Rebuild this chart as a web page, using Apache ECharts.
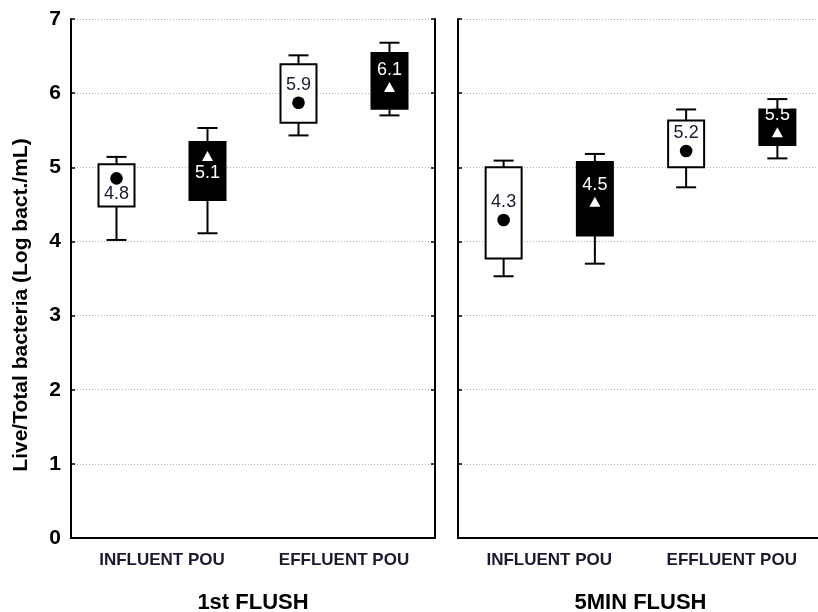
<!DOCTYPE html>
<html>
<head>
<meta charset="utf-8">
<script src="https://cdn.jsdelivr.net/npm/echarts@6/dist/echarts.min.js"></script>
<style>html,body{margin:0;padding:0;background:#fff}#c{width:818px;height:612px}</style>
</head>
<body>
<div id="c"></div>
<script>
// ---- data ----
var categories = ['INFLUENT POU', 'EFFLUENT POU'];
var groups = ['1st FLUSH', '5MIN FLUSH'];
var yTicks = [0, 1, 2, 3, 4, 5, 6, 7];
var yTitle = 'Live/Total bacteria (Log bact./mL)';
// each row: [category index, whisker low, box low, box high, whisker high, mean]
var flush1Open   = [[0, 4.02, 4.47, 5.04, 5.14, 4.85], [1, 5.43, 5.60, 6.39, 6.51, 5.87]];
var flush1Filled = [[0, 4.11, 4.56, 5.34, 5.53, 5.14], [1, 5.70, 5.79, 6.54, 6.68, 6.07]];
var flush5Open   = [[0, 3.53, 3.77, 5.00, 5.09, 4.29], [1, 4.73, 5.00, 5.63, 5.78, 5.22]];
var flush5Filled = [[0, 3.70, 4.08, 5.07, 5.18, 4.52], [1, 5.12, 5.30, 5.78, 5.92, 5.46]];
var flush1OpenLabels   = ['4.8', '5.9'];
var flush1FilledLabels = ['5.1', '6.1'];
var flush5OpenLabels   = ['4.3', '5.2'];
var flush5FilledLabels = ['4.5', '5.5'];
var flush1LabelSide = ['below', 'above'];
var flush5LabelSide = ['above', 'above'];

// ---- style ----
var FONT = "'Liberation Sans', Arial, sans-serif";
var AXC = '#000';

function renderer(side, filled, labels, labelSide) {
  return function (params, api) {
    var cat = api.value(0);
    var bw = api.size([1, 0])[0];
    var x = api.coord([cat, 0])[0] + side * bw / 4;
    function Y(v) { return api.coord([cat, v])[1]; }
    var wlo = Y(api.value(1)), blo = Y(api.value(2)), bhi = Y(api.value(3)), whi = Y(api.value(4)), m = Y(api.value(5));
    var half = 18, cap = 10;
    var ls = { stroke: '#000', lineWidth: 2 };
    var ch = [
      { type: 'line', shape: { x1: x, y1: wlo, x2: x, y2: blo }, style: ls },
      { type: 'line', shape: { x1: x, y1: bhi, x2: x, y2: whi }, style: ls },
      { type: 'line', shape: { x1: x - cap, y1: wlo, x2: x + cap, y2: wlo }, style: ls },
      { type: 'line', shape: { x1: x - cap, y1: whi, x2: x + cap, y2: whi }, style: ls },
      { type: 'rect', shape: { x: x - half, y: bhi, width: 2 * half, height: blo - bhi },
        style: { fill: filled ? '#000' : '#fff', stroke: '#000', lineWidth: 2 } }
    ];
    if (filled) {
      ch.push({ type: 'polygon', shape: { points: [[x, m - 6], [x - 5.5, m + 4], [x + 5.5, m + 4]] }, style: { fill: '#fff' } });
    } else {
      ch.push({ type: 'circle', shape: { cx: x, cy: m, r: 6.3 }, style: { fill: '#000' } });
    }
    var idx = params.dataIndex;
    var ly = labelSide[idx] === 'above' ? m - 18 : m + 16;
    ch.push({ type: 'text', x: x, y: ly, style: { text: labels[idx], align: 'center', verticalAlign: 'middle',
      fill: filled ? '#fff' : '#1a1a2e', font: '18px ' + FONT } });
    return { type: 'group', children: ch };
  };
}

function series(gi, side, filled, data, labels, labelSide) {
  return {
    type: 'custom', xAxisIndex: gi * 2, yAxisIndex: gi * 2,
    renderItem: renderer(side, filled, labels, labelSide),
    encode: { x: 0, y: [1, 2, 3, 4, 5] },
    data: data, silent: true, animation: false, clip: false
  };
}

function xAxes(gi) {
  return [
    { type: 'category', gridIndex: gi, data: categories, position: 'bottom',
      name: groups[gi], nameLocation: 'middle', nameGap: 54,
      nameTextStyle: { fontFamily: FONT, fontWeight: 'bold', fontSize: 22, color: '#000' },
      axisLine: { lineStyle: { color: AXC, width: 2 } },
      axisTick: { inside: true, alignWithLabel: true, length: 4, lineStyle: { color: AXC, width: 1.5 } },
      axisLabel: { fontFamily: FONT, fontWeight: 'bold', fontSize: 17, color: '#1a1a2e', margin: 14 } },
    { type: 'category', gridIndex: gi, data: categories, position: 'top',
      axisLine: { lineStyle: { color: AXC, width: 2 } },
      axisTick: { inside: true, alignWithLabel: true, length: 4, lineStyle: { color: AXC, width: 1.5 } },
      axisLabel: { show: false } }
  ];
}
function yAxes(gi) {
  return [
    { type: 'value', gridIndex: gi, min: yTicks[0], max: yTicks[yTicks.length - 1], interval: 1, position: 'left',
      axisLine: { show: true, lineStyle: { color: AXC, width: 2 } },
      axisTick: { show: true, inside: true, length: 4, lineStyle: { color: AXC, width: 1.5 } },
      axisLabel: { show: gi === 0, fontFamily: FONT, fontWeight: 'bold', fontSize: 21, color: '#000', margin: 10 },
      splitLine: { show: true, lineStyle: { color: '#b0b0b0', type: [1, 2], width: 1 } } },
    { type: 'value', gridIndex: gi, min: yTicks[0], max: yTicks[yTicks.length - 1], interval: 1, position: 'right',
      axisLine: { show: true, lineStyle: { color: AXC, width: 2 } },
      axisTick: { show: true, inside: true, length: 4, lineStyle: { color: AXC, width: 1.5 } },
      axisLabel: { show: false }, splitLine: { show: false } }
  ];
}

var chart = echarts.init(document.getElementById('c'), null, { renderer: 'canvas' });
chart.setOption({
  animation: false,
  backgroundColor: '#fff',
  grid: [
    { left: 71, top: 19, width: 364, height: 519, outerBoundsMode: 'none' },
    { left: 458, top: 19, width: 365, height: 519, outerBoundsMode: 'none' }
  ],
  xAxis: xAxes(0).concat(xAxes(1)),
  yAxis: yAxes(0).concat(yAxes(1)),
  graphic: [
    { type: 'text', x: 21, y: 305, rotation: Math.PI / 2,
      style: { text: yTitle, align: 'center', verticalAlign: 'middle', fill: '#000',
        font: 'bold 21px ' + FONT } }
  ],
  series: [
    series(0, -1, false, flush1Open, flush1OpenLabels, flush1LabelSide),
    series(0, 1, true, flush1Filled, flush1FilledLabels, flush1LabelSide),
    series(1, -1, false, flush5Open, flush5OpenLabels, flush5LabelSide),
    series(1, 1, true, flush5Filled, flush5FilledLabels, flush5LabelSide)
  ]
});
</script>
</body>
</html>
